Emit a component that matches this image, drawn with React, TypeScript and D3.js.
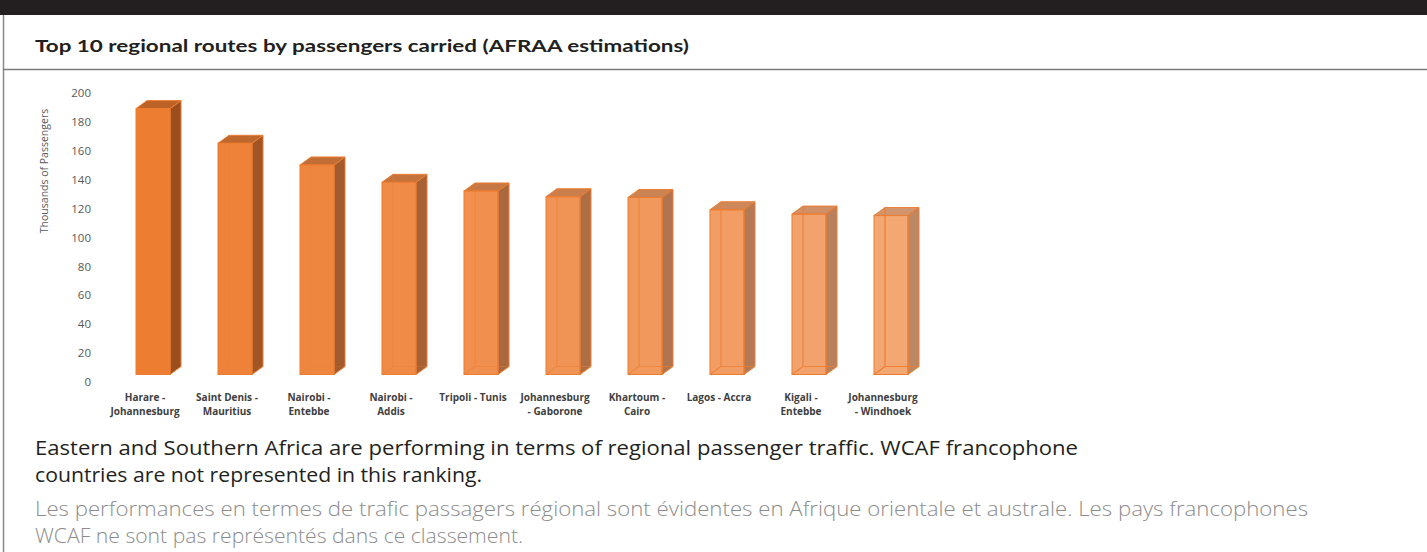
import React, {useEffect, useRef} from 'react';
import * as d3 from 'd3';

// route labels (two lines each), values in thousands of passengers
const routesTop = ['Harare -', 'Saint Denis -', 'Nairobi -', 'Nairobi -', 'Tripoli - Tunis', 'Johannesburg', 'Khartoum -', 'Lagos - Accra', 'Kigali -', 'Johannesburg'];
const routesBottom = ['Johannesburg', 'Mauritius', 'Entebbe', 'Addis', '', '- Gaborone', 'Cairo', '', 'Entebbe', '- Windhoek'];
const passengers = [184, 160, 145, 133, 127, 123, 122.5, 114, 111, 110];
const yTicks = [0, 20, 40, 60, 80, 100, 120, 140, 160, 180, 200];

const title = 'Top 10 regional routes by passengers carried (AFRAA estimations)';
const noteEn = [
  'Eastern and Southern Africa are performing in terms of regional passenger traffic. WCAF francophone',
  'countries are not represented in this ranking.',
];
const noteFr = [
  'Les performances en termes de trafic passagers régional sont évidentes en Afrique orientale et australe. Les pays francophones',
  'WCAF ne sont pas représentés dans ce classement.',
];

const W = 1427;
const H = 552;

const App = () => {
  const ref = useRef<SVGSVGElement>(null);

  useEffect(() => {
    const svg = d3.select(ref.current);
    svg.selectAll('*').remove();

    // frame
    svg.append('rect').attr('x', 0).attr('y', 0).attr('width', W).attr('height', 15).attr('fill', '#231f20');
    svg.append('line').attr('x1', 3.5).attr('x2', 3.5).attr('y1', 15).attr('y2', H).attr('stroke', '#8a8a8a').attr('stroke-width', 1.5);
    svg.append('line').attr('x1', 3).attr('x2', W).attr('y1', 69.5).attr('y2', 69.5).attr('stroke', '#7a7a7a').attr('stroke-width', 1.5);

    svg
      .append('text')
      .attr('x', 35)
      .attr('y', 52)
      .attr('font-family', 'Lato, sans-serif')
      .attr('font-weight', 700)
      .attr('font-size', 17)
      .attr('fill', '#231f20')
      .attr('textLength', 654)
      .attr('lengthAdjust', 'spacingAndGlyphs')
      .text(title);

    // scales
    const x = d3
      .scaleBand<number>()
      .domain(d3.range(passengers.length))
      .range([95, 949])
      .paddingInner(0.585)
      .paddingOuter(0.5);
    const y = d3.scaleLinear().domain([0, 200]).range([382, 93]);

    const dx = 11;
    const dy = 8;
    const floor = 7.5; // front face sits above the tick baseline

    // y axis labels
    const yAxis = svg
      .append('g')
      .attr('transform', 'translate(91,0)')
      .call(d3.axisLeft(y).tickValues(yTicks).tickSize(0).tickPadding(0));
    yAxis.select('.domain').remove();
    yAxis
      .selectAll('text')
      .attr('font-family', 'Open Sans, sans-serif')
      .attr('font-size', 11.5)
      .attr('fill', '#595959');

    svg
      .append('text')
      .attr('transform', 'translate(48,171) rotate(-90)')
      .attr('text-anchor', 'middle')
      .attr('font-family', 'Open Sans, sans-serif')
      .attr('font-size', 10.5)
      .attr('fill', '#595959')
      .text('Thousands of Passengers');

    // 3D bars
    const op = d3.scaleLinear().domain([0, passengers.length - 1]).range([1, 0.68]);
    const bars = svg
      .append('g')
      .selectAll('g')
      .data(passengers)
      .enter()
      .append('g');

    bars.each(function (d, i) {
      const g = d3.select(this);
      const x0 = x(i)!;
      const x1 = x0 + x.bandwidth();
      const yb = y(0) - floor;
      const yt = y(d) - floor;
      const o = op(i);
      // side face
      g.append('path')
        .attr('d', `M${x1},${yb}L${x1 + dx},${yb - dy}L${x1 + dx},${yt - dy}L${x1},${yt}Z`)
        .attr('fill', '#9b4f1e')
        .attr('fill-opacity', o)
        .attr('stroke', '#ed7d31')
        .attr('stroke-width', 1);
      // top face
      g.append('path')
        .attr('d', `M${x0},${yt}L${x0 + dx},${yt - dy}L${x1 + dx},${yt - dy}L${x1},${yt}Z`)
        .attr('fill', '#bd6226')
        .attr('fill-opacity', o)
        .attr('stroke', '#ed7d31')
        .attr('stroke-width', 1);
      // front face
      g.append('rect')
        .attr('x', x0)
        .attr('y', yt)
        .attr('width', x1 - x0)
        .attr('height', yb - yt)
        .attr('fill', '#ed7d31')
        .attr('fill-opacity', o)
        .attr('stroke', '#ed7d31')
        .attr('stroke-width', 1);
      // hidden back edges seen through the lighter bars
      if (i > 0) {
        const eo = Math.min(1, (1 - o) * 3);
        g.append('path')
          .attr('d', `M${x0 + dx},${yt - dy}L${x0 + dx},${yb - dy}L${x1 + dx},${yb - dy}M${x0},${yb}L${x0 + dx},${yb - dy}`)
          .attr('fill', 'none')
          .attr('stroke', '#ed7d31')
          .attr('stroke-opacity', eo)
          .attr('stroke-width', 1.2);
      }
    });

    // category labels
    const labels = svg
      .append('g')
      .attr('font-family', 'Open Sans, sans-serif')
      .attr('font-weight', 700)
      .attr('font-size', 10)
      .attr('fill', '#404040')
      .attr('text-anchor', 'middle');
    labels
      .selectAll('text.l1')
      .data(routesTop)
      .enter()
      .append('text')
      .attr('class', 'l1')
      .attr('x', (d, i) => x(i)! + x.bandwidth() / 2 - 8)
      .attr('y', 401)
      .text(d => d);
    labels
      .selectAll('text.l2')
      .data(routesBottom)
      .enter()
      .append('text')
      .attr('class', 'l2')
      .attr('x', (d, i) => x(i)! + x.bandwidth() / 2 - 8)
      .attr('y', 415)
      .text(d => d);

    // notes
    const enWidths = [1043, 447];
    noteEn.forEach((t, i) => {
      svg
        .append('text')
        .attr('x', 35)
        .attr('y', 455 + i * 27)
        .attr('font-family', 'Open Sans, sans-serif')
        .attr('font-size', 19.5)
        .attr('fill', '#231f20')
        .attr('textLength', enWidths[i])
        .attr('lengthAdjust', 'spacingAndGlyphs')
        .text(t);
    });
    const frWidths = [1273, 488];
    noteFr.forEach((t, i) => {
      svg
        .append('text')
        .attr('x', 35)
        .attr('y', 516 + i * 27)
        .attr('font-family', 'Open Sans, sans-serif')
        .attr('font-weight', 300)
        .attr('font-size', 19.5)
        .attr('fill', '#8c8c8c')
        .attr('textLength', frWidths[i])
        .attr('lengthAdjust', 'spacingAndGlyphs')
        .text(t);
    });
  }, []);

  return (
    <svg
      ref={ref}
      width={W}
      height={H}
      style={{position: 'absolute', left: 0, top: 0, background: '#fff'}}
    />
  );
};

export default App;
